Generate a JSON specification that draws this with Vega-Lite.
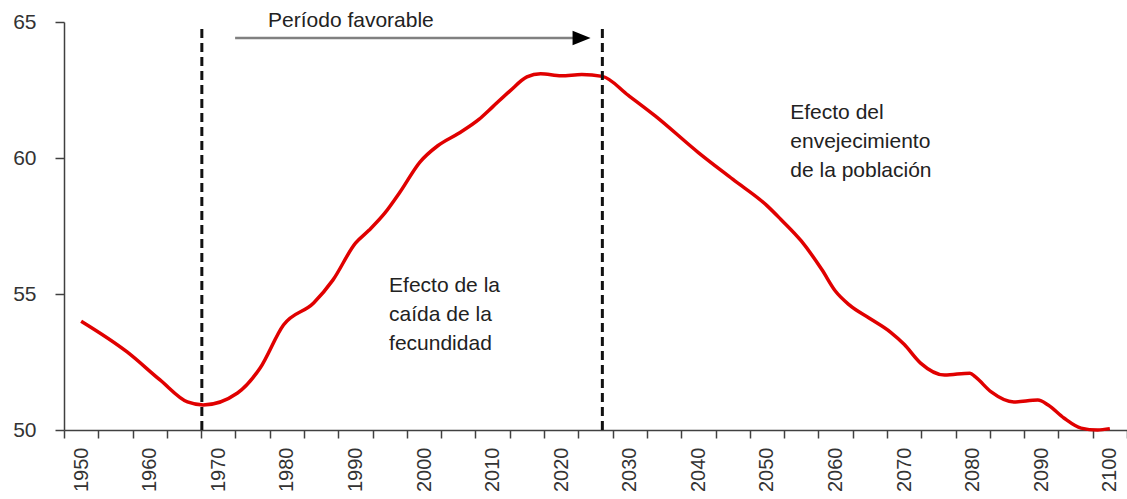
{
  "$schema": "https://vega.github.io/schema/vega-lite/v6.json",
  "width": 1063,
  "height": 408,
  "autosize": {"type": "none"},
  "padding": {"left": 64, "top": 22, "right": 0, "bottom": 69},
  "background": "white",
  "config": {
    "view": {"stroke": null},
    "font": "Liberation Sans",
    "axis": {"grid": false, "title": null, "labelFont": "Liberation Sans", "labelColor": "#333333", "domainColor": "#404040", "tickColor": "#404040"}
  },
  "datasets": {
    "series": [
      {"year": 1950, "value": 54.0},
      {"year": 1956.7, "value": 52.87},
      {"year": 1961.5, "value": 51.84},
      {"year": 1965.5, "value": 51.03},
      {"year": 1967.8, "value": 50.92},
      {"year": 1972.8, "value": 51.36},
      {"year": 1976.1, "value": 52.28},
      {"year": 1979.5, "value": 53.86},
      {"year": 1983.9, "value": 54.67},
      {"year": 1986.7, "value": 55.51},
      {"year": 1990, "value": 56.87},
      {"year": 1992, "value": 57.35},
      {"year": 1994.3, "value": 57.98},
      {"year": 1996.5, "value": 58.75},
      {"year": 1999.4, "value": 59.85},
      {"year": 2002, "value": 60.45},
      {"year": 2005, "value": 60.9},
      {"year": 2008, "value": 61.42},
      {"year": 2010, "value": 61.88},
      {"year": 2012.5, "value": 62.46},
      {"year": 2015, "value": 62.98},
      {"year": 2017, "value": 63.1},
      {"year": 2020, "value": 63.02},
      {"year": 2023, "value": 63.07},
      {"year": 2026, "value": 63.0},
      {"year": 2029.8, "value": 62.3},
      {"year": 2033.7, "value": 61.55},
      {"year": 2040, "value": 60.2},
      {"year": 2045, "value": 59.22},
      {"year": 2050, "value": 58.25},
      {"year": 2052, "value": 57.75},
      {"year": 2055, "value": 56.95},
      {"year": 2058, "value": 55.9},
      {"year": 2060, "value": 55.1},
      {"year": 2062, "value": 54.6},
      {"year": 2065, "value": 54.1},
      {"year": 2068, "value": 53.6},
      {"year": 2070, "value": 53.15},
      {"year": 2072.4, "value": 52.46},
      {"year": 2075.9, "value": 52.02},
      {"year": 2079.6, "value": 52.09},
      {"year": 2080.4, "value": 51.95},
      {"year": 2082.7, "value": 51.4},
      {"year": 2086, "value": 51.03},
      {"year": 2089.5, "value": 51.1},
      {"year": 2091, "value": 50.92},
      {"year": 2093.3, "value": 50.44},
      {"year": 2095.8, "value": 50.07},
      {"year": 2098.2, "value": 50.0},
      {"year": 2100, "value": 50.05}
    ],
    "dashed": [
      {"year": 1967.6, "low": 50, "high": 64.74},
      {"year": 2026.0, "low": 50, "high": 64.74}
    ],
    "notes": [
      {"label": "Período favorable", "year": 1977.25, "value": 64.82},
      {"label": "Efecto de la\ncaída de la\nfecundidad", "year": 1994.9, "value": 55.07},
      {"label": "Efecto del\nenvejecimiento\nde la población", "year": 2053.4, "value": 61.43}
    ],
    "arrow": [
      {"start": 1972.45, "end": 2022.0, "value": 64.41, "head": 2022.97}
    ]
  },
  "layer": [
    {
      "data": {"name": "series"},
      "mark": {"type": "line", "interpolate": "monotone", "color": "#e00000", "strokeWidth": 3.5},
      "encoding": {
        "x": {
          "field": "year", "type": "quantitative",
          "scale": {"domain": [1947.5, 2102.5], "nice": false, "zero": false},
          "axis": {
            "orient": "bottom",
            "values": [1947.5, 1952.5, 1957.5, 1962.5, 1967.5, 1972.5, 1977.5, 1982.5, 1987.5, 1992.5, 1997.5, 2002.5, 2007.5, 2012.5, 2017.5, 2022.5, 2027.5, 2032.5, 2037.5, 2042.5, 2047.5, 2052.5, 2057.5, 2062.5, 2067.5, 2072.5, 2077.5, 2082.5, 2087.5, 2092.5, 2097.5, 2102.5],
            "labels": false, "ticks": true, "tickSize": 8, "tickWidth": 1.5, "domainWidth": 1.5
          }
        },
        "y": {
          "field": "value", "type": "quantitative",
          "scale": {"domain": [50, 65], "nice": false, "zero": false},
          "axis": {"values": [50, 55, 60, 65], "tickSize": 9, "tickWidth": 1.5, "domainWidth": 1.5, "labelPadding": 19, "labelFontSize": 21, "format": "d"}
        }
      }
    },
    {
      "data": {"name": "dashed"},
      "mark": {"type": "rule", "color": "#111111", "strokeWidth": 3, "strokeDash": [9, 5]},
      "encoding": {
        "x": {
          "field": "year", "type": "quantitative",
          "scale": {"domain": [1947.5, 2102.5], "nice": false, "zero": false},
          "axis": {
            "orient": "bottom",
            "values": [1950, 1960, 1970, 1980, 1990, 2000, 2010, 2020, 2030, 2040, 2050, 2060, 2070, 2080, 2090, 2100],
            "format": "d", "ticks": false, "domain": false, "labelAngle": -90, "labelFontSize": 20,
            "labelPadding": 17, "labelFlush": false, "labelOverlap": false, "labelBound": false
          }
        },
        "y": {"field": "low", "type": "quantitative"},
        "y2": {"field": "high"}
      }
    },
    {
      "data": {"name": "notes"},
      "mark": {"type": "text", "align": "left", "baseline": "alphabetic", "fontSize": 21, "lineBreak": "\n", "lineHeight": 29, "color": "#222222", "font": "Liberation Sans"},
      "encoding": {
        "x": {"field": "year", "type": "quantitative", "axis": null},
        "y": {"field": "value", "type": "quantitative"},
        "text": {"field": "label", "type": "nominal"}
      }
    },
    {
      "data": {"name": "arrow"},
      "mark": {"type": "rule", "color": "#808080", "strokeWidth": 2.5},
      "encoding": {
        "x": {"field": "start", "type": "quantitative", "axis": null},
        "x2": {"field": "end"},
        "y": {"field": "value", "type": "quantitative"}
      }
    },
    {
      "data": {"name": "arrow"},
      "mark": {"type": "point", "shape": "M-1,-0.8L1,0L-1,0.8Z", "filled": true, "color": "#000000", "size": 324, "opacity": 1},
      "encoding": {
        "x": {"field": "head", "type": "quantitative", "axis": null},
        "y": {"field": "value", "type": "quantitative"}
      }
    }
  ],
  "resolve": {"axis": {"x": "independent"}}
}
